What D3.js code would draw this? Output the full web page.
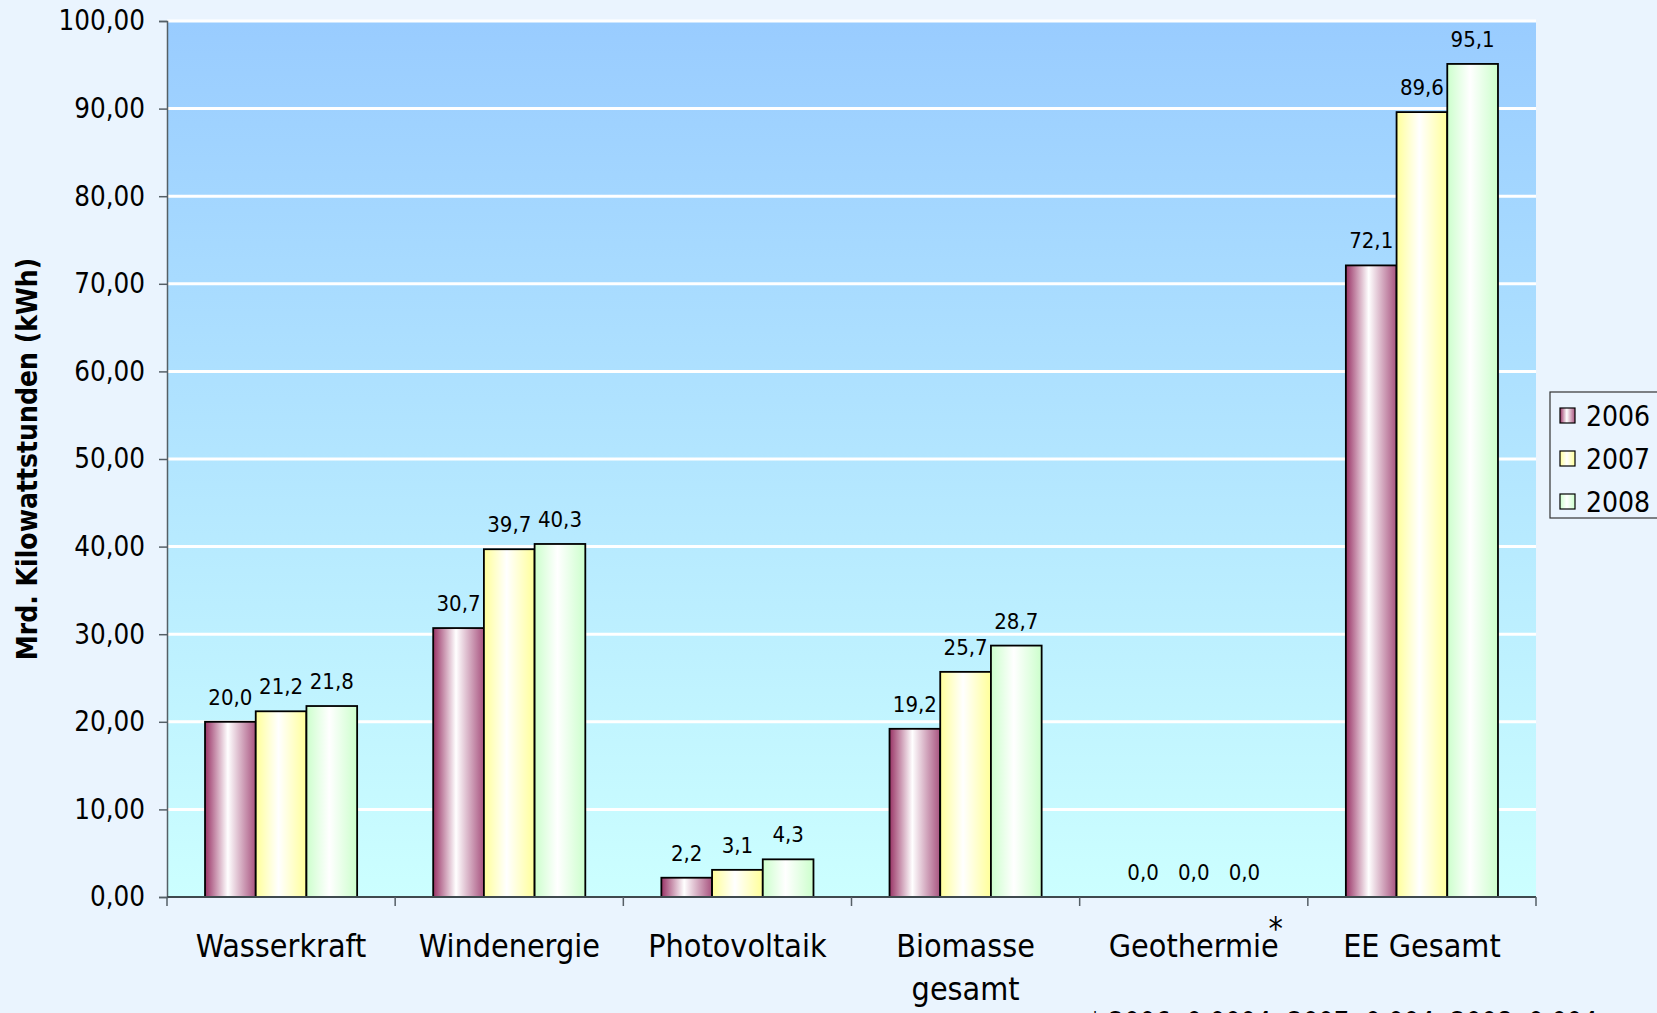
<!DOCTYPE html>
<html>
<head>
<meta charset="utf-8">
<script src="https://cdn.jsdelivr.net/npm/d3@7"></script>
<style>
  html, body { margin: 0; padding: 0; background: #eaf4fe; overflow: hidden; }
  svg { display: block; font-family: "DejaVu Sans Condensed", "DejaVu Sans", sans-serif; }
</style>
</head>
<body>
<svg width="1657" height="1013"></svg>
<script>
// data
const categories = ["Wasserkraft", "Windenergie", "Photovoltaik", "Biomasse gesamt", "Geothermie", "EE Gesamt"];
const years = ["2006", "2007", "2008"];
const values2006 = [20.0, 30.7, 2.2, 19.2, 0.0004, 72.1];
const values2007 = [21.2, 39.7, 3.1, 25.7, 0.004, 89.6];
const values2008 = [21.8, 40.3, 4.3, 28.7, 0.004, 95.1];
const yTicks = [0, 10, 20, 30, 40, 50, 60, 70, 80, 90, 100];
const footnote = "* 2006: 0,0004; 2007: 0,004; 2008: 0,004";

const svg = d3.select("svg");
const margin = {left: 167, right: 121, top: 21, bottom: 116};
const width = +svg.attr("width");
const height = +svg.attr("height");
const plotW = width - margin.left - margin.right;
const plotH = height - margin.top - margin.bottom;

const de = d3.formatLocale({decimal: ",", thousands: ".", grouping: [3], currency: ["", " €"]});
const fmt1 = de.format(".1f");
const fmt2 = de.format(".2f");

const seriesValues = [values2006, values2007, values2008];
const rows = categories.map((c, i) => ({cat: c, vals: years.map((y, j) => ({year: y, value: seriesValues[j][i]}))}));

const x0 = d3.scaleBand().domain(categories).range([0, plotW]);
const x1 = d3.scaleBand().domain(years).range([0, x0.bandwidth()]).paddingInner(0).paddingOuter(0.75);
const y = d3.scaleLinear().domain([0, 100]).range([plotH, 0]);

// gradients
const defs = svg.append("defs");
const bg = defs.append("linearGradient").attr("id", "bg").attr("x1", 0).attr("y1", 0).attr("x2", 0).attr("y2", 1);
bg.append("stop").attr("offset", 0).attr("stop-color", "#99ccff");
bg.append("stop").attr("offset", 1).attr("stop-color", "#ccffff");

const barColors = {"2006": ["#993366", "#a8537f"], "2007": ["#ffff99", "#ffff99"], "2008": ["#ccffcc", "#ccffcc"]};
years.forEach(yr => {
  const g = defs.append("linearGradient").attr("id", "g" + yr).attr("x1", 0).attr("x2", 1).attr("y1", 0).attr("y2", 0);
  g.append("stop").attr("offset", 0).attr("stop-color", barColors[yr][0]);
  g.append("stop").attr("offset", 0.45).attr("stop-color", "#ffffff");
  g.append("stop").attr("offset", 1).attr("stop-color", barColors[yr][1]);
});

const chart = svg.append("g").attr("transform", `translate(${margin.left},${margin.top})`);

chart.append("rect").attr("width", plotW).attr("height", plotH).attr("fill", "url(#bg)");

// gridlines
chart.append("g").selectAll("line")
  .data(yTicks.filter(d => d > 0))
  .enter().append("line")
  .attr("x1", 0).attr("x2", plotW)
  .attr("y1", d => y(d)).attr("y2", d => y(d))
  .attr("stroke", "#ffffff").attr("stroke-width", 3);

// y axis
const yAxis = chart.append("g")
  .call(d3.axisLeft(y).tickValues(yTicks).tickFormat(fmt2).tickSize(8).tickPadding(14));
yAxis.select(".domain").attr("stroke", "#555f66").attr("stroke-width", 1.5);
yAxis.selectAll(".tick line").attr("stroke", "#555f66").attr("stroke-width", 1.5);
yAxis.selectAll("text").attr("font-size", 27.5).attr("fill", "#000").attr("font-family", "DejaVu Sans Condensed, DejaVu Sans");

// bars
const groups = chart.append("g").selectAll("g")
  .data(rows)
  .enter().append("g")
  .attr("transform", d => `translate(${x0(d.cat)},0)`);

groups.selectAll("rect")
  .data(d => d.vals)
  .enter().append("rect")
  .attr("x", d => x1(d.year))
  .attr("width", x1.bandwidth())
  .attr("y", d => y(d.value))
  .attr("height", d => plotH - y(d.value))
  .attr("fill", d => `url(#g${d.year})`)
  .attr("stroke", d => (plotH - y(d.value)) < 0.5 ? "none" : "#000")
  .attr("stroke-width", 1.8);

groups.selectAll("text")
  .data(d => d.vals)
  .enter().append("text")
  .attr("x", d => x1(d.year) + x1.bandwidth() / 2)
  .attr("y", d => y(d.value) - 17)
  .attr("text-anchor", "middle")
  .attr("font-size", 22)
  .text(d => fmt1(d.value));

// x axis
const xAxis = chart.append("g").attr("transform", `translate(0,${plotH})`);
xAxis.append("line").attr("x1", 0).attr("x2", plotW).attr("stroke", "#3f4a4f").attr("stroke-width", 2);
xAxis.selectAll(".tk")
  .data(d3.range(categories.length + 1))
  .enter().append("line")
  .attr("x1", i => i * x0.step()).attr("x2", i => i * x0.step())
  .attr("y1", 0).attr("y2", 9)
  .attr("stroke", "#555f66").attr("stroke-width", 1.5);

const catLabels = xAxis.selectAll(".cat")
  .data(categories)
  .enter().append("text")
  .attr("class", "cat")
  .attr("text-anchor", "middle")
  .attr("font-size", 32)
  .attr("transform", d => `translate(${x0(d) + x0.bandwidth() / 2},60)`);

catLabels.each(function(d) {
  const words = d === "Biomasse gesamt" ? ["Biomasse", "gesamt"] : [d];
  const t = d3.select(this);
  words.forEach((w, i) => t.append("tspan").attr("x", 0).attr("dy", i === 0 ? 0 : 43).text(w));
});

// asterisk on Geothermie
catLabels.filter(d => d === "Geothermie").each(function(d) {
  const w = this.getComputedTextLength();
  xAxis.append("text")
    .attr("x", x0(d) + x0.bandwidth() / 2 + w / 2 - 3)
    .attr("y", 42)
    .attr("text-anchor", "middle")
    .attr("font-size", 32)
    .text("*");
});

// y title
svg.append("text")
  .attr("transform", `translate(37,${margin.top + plotH / 2}) rotate(-90)`)
  .attr("text-anchor", "middle")
  .attr("font-size", 28)
  .attr("font-weight", "bold")
  .text("Mrd. Kilowattstunden (kWh)");

// legend
const legend = svg.append("g").attr("transform", "translate(1550,392)");
legend.append("rect").attr("width", 120).attr("height", 126)
  .attr("fill", "#eaf4fe").attr("stroke", "#333").attr("stroke-width", 1.2);
const li = legend.selectAll(".li").data(years).enter().append("g")
  .attr("transform", (d, i) => `translate(10,${24 + i * 43})`);
li.append("rect").attr("x", 0).attr("y", -8).attr("width", 15).attr("height", 15)
  .attr("fill", d => `url(#g${d})`).attr("stroke", "#000").attr("stroke-width", 1.2);
li.append("text").attr("x", 26).attr("y", 10).attr("font-size", 28).text(d => d);

// footnote
svg.append("text").attr("x", 1089).attr("y", 1031).attr("font-size", 27).text(footnote);
</script>
</body>
</html>
